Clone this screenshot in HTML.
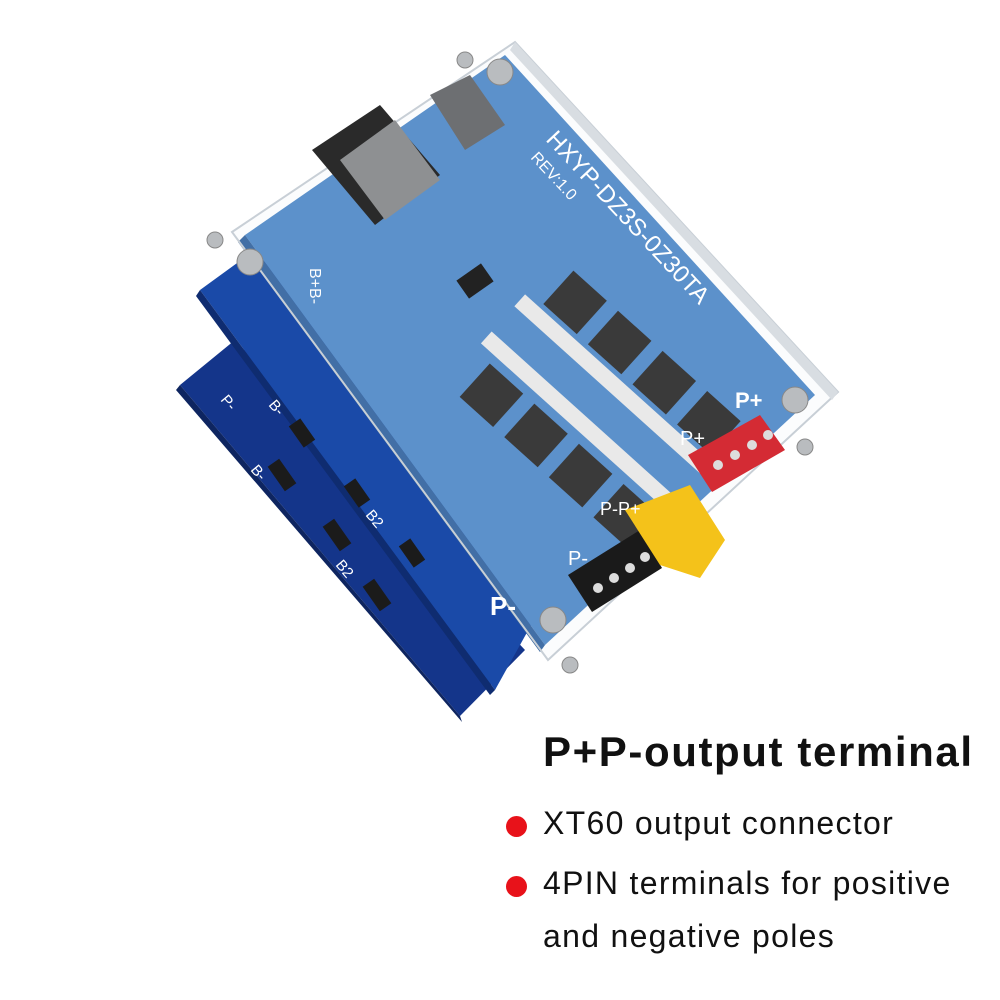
<!DOCTYPE html>
<html><head><meta charset="utf-8"><style>
html,body{margin:0;padding:0;background:#fff;}
.wrap{position:relative;width:1000px;height:1000px;overflow:hidden;background:#fff;font-family:"Liberation Sans",sans-serif;}
.t{position:absolute;color:#111;white-space:nowrap;}
.dot{position:absolute;width:21px;height:21px;border-radius:50%;background:#e8121a;}
</style></head><body><div class="wrap">
<svg width="1000" height="1000" style="position:absolute;left:0;top:0">
<!-- bottom board -->
<polygon points="180,385 235,340 525,650 460,716" fill="#14358a"/>
<polygon points="180,385 460,716 462,722 176,390" fill="#0e2560"/>
<!-- middle board -->
<polygon points="200,290 255,250 545,600 495,690" fill="#1a4aa8"/>
<polygon points="200,290 495,690 490,695 196,296" fill="#0f2c70"/>
<g fill="#1b1b1b">
<rect x="275" y="460" width="14" height="30" transform="rotate(-35 282 475)"/>
<rect x="330" y="520" width="14" height="30" transform="rotate(-35 337 535)"/>
<rect x="370" y="580" width="14" height="30" transform="rotate(-35 377 595)"/>
<rect x="295" y="420" width="14" height="26" transform="rotate(-35 302 433)"/>
<rect x="350" y="480" width="14" height="26" transform="rotate(-35 357 493)"/>
<rect x="405" y="540" width="14" height="26" transform="rotate(-35 412 553)"/>
</g>
<g fill="#fff" font-size="15" font-family="Liberation Sans">
<text x="250" y="470" transform="rotate(50 250 470)">B-</text>
<text x="268" y="405" transform="rotate(50 268 405)">B-</text>
<text x="365" y="515" transform="rotate(50 365 515)">B2</text>
<text x="335" y="565" transform="rotate(50 335 565)">B2</text>
<text x="220" y="400" transform="rotate(50 220 400)">P-</text>
</g>
<!-- main blue PCB -->
<polygon points="245,235 505,55 815,395 545,645" fill="#4a86c6"/>
<polygon points="245,235 545,645 540,652 238,242" fill="#2d5f9c"/>
<!-- acrylic -->
<polygon points="232,232 515,42 838,392 548,660" fill="#dfe7ee" fill-opacity="0.12" stroke="#c8cfd6" stroke-width="2"/>
<polygon points="515,42 838,392 832,400 510,50" fill="#d8dde2"/>
<!-- connector top -->
<polygon points="312,150 380,105 440,175 375,225" fill="#2a2a2a"/>
<polygon points="340,160 395,120 440,180 385,220" fill="#8e9092"/>
<polygon points="430,95 470,75 505,125 465,150" fill="#6d6f72"/>
<g transform="rotate(42 560 420)">
<rect x="450" y="350" width="250" height="16" fill="#e9e9e9"/>
<rect x="450" y="400" width="250" height="16" fill="#e9e9e9"/>
<rect x="470" y="300" width="45" height="45" fill="#3a3a3a"/>
<rect x="530" y="300" width="45" height="45" fill="#3a3a3a"/>
<rect x="590" y="300" width="45" height="45" fill="#3a3a3a"/>
<rect x="650" y="300" width="45" height="45" fill="#3a3a3a"/>
<rect x="470" y="425" width="45" height="45" fill="#3a3a3a"/>
<rect x="530" y="425" width="45" height="45" fill="#3a3a3a"/>
<rect x="590" y="425" width="45" height="45" fill="#3a3a3a"/>
<rect x="650" y="425" width="45" height="45" fill="#3a3a3a"/>
</g>
<rect x="460" y="270" width="30" height="22" fill="#222" transform="rotate(-35 475 281)"/>
<polygon points="688,455 760,415 785,450 712,492" fill="#d42b34"/>
<polygon points="568,575 640,530 662,568 592,612" fill="#1a1a1a"/>
<polygon points="625,510 690,485 725,540 700,578 660,565" fill="#f4c21a"/>
<g fill="#ddd"><circle cx="718" cy="465" r="5"/><circle cx="735" cy="455" r="5"/><circle cx="752" cy="445" r="5"/><circle cx="768" cy="435" r="5"/>
<circle cx="598" cy="588" r="5"/><circle cx="614" cy="578" r="5"/><circle cx="630" cy="568" r="5"/><circle cx="645" cy="557" r="5"/></g>
<g fill="#b9bcbf" stroke="#888">
<circle cx="500" cy="72" r="13"/><circle cx="250" cy="262" r="13"/><circle cx="795" cy="400" r="13"/><circle cx="553" cy="620" r="13"/>
<circle cx="215" cy="240" r="8"/><circle cx="465" cy="60" r="8"/><circle cx="805" cy="447" r="8"/><circle cx="570" cy="665" r="8"/>
</g>
<g fill="#fff" font-family="Liberation Sans">
<text x="545" y="140" font-size="24" transform="rotate(47 545 140)">HXYP-DZ3S-0Z30TA</text>
<text x="530" y="158" font-size="16" transform="rotate(47 530 158)">REV:1.0</text>
<text x="735" y="408" font-size="22" font-weight="bold">P+</text>
<text x="680" y="445" font-size="20">P+</text>
<text x="600" y="515" font-size="18">P-P+</text>
<text x="568" y="565" font-size="20">P-</text>
<text x="490" y="615" font-size="26" font-weight="bold">P-</text>
<text x="310" y="268" font-size="16" transform="rotate(90 310 268)">B+B-</text>
</g>
</svg>
<div class="t" style="left:543px;top:728px;font-size:42px;font-weight:bold;letter-spacing:1.6px;">P+P-output terminal</div>
<div class="dot" style="left:506px;top:816px"></div>
<div class="t" style="left:543px;top:805px;font-size:32px;letter-spacing:1.3px;">XT60 output connector</div>
<div class="dot" style="left:506px;top:876px"></div>
<div class="t" style="left:543px;top:865px;font-size:32px;letter-spacing:1.3px;">4PIN terminals for positive</div>
<div class="t" style="left:543px;top:918px;font-size:32px;letter-spacing:1.3px;">and negative poles</div>
</div></body></html>
